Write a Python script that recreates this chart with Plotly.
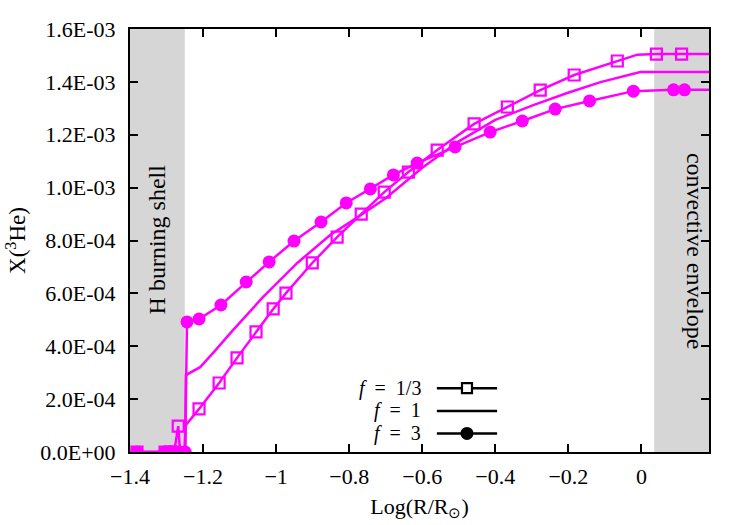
import plotly.graph_objects as go

# ---------------- data (Log R/Rsun, X(3He) in units of 1e-3) ----------------
# f = 1/3 : line and markers
f13_line_x = [-1.381, -1.304, -1.290, -1.279, -1.268, -1.263, -1.251, -1.248, -1.211, -1.156,
              -1.107, -1.055, -1.008, -0.973, -0.901, -0.833, -0.767, -0.704, -0.638, -0.559,
              -0.458, -0.367, -0.277, -0.184, -0.066, -0.011, 0.041, 0.110, 0.185]
f13_line_y = [0.0, 0.0, 0.0, 0.0, 0.098, 0.0, 0.0, 0.100, 0.163, 0.261,
              0.356, 0.454, 0.541, 0.601, 0.715, 0.813, 0.900, 0.983, 1.059, 1.142,
              1.241, 1.305, 1.369, 1.426, 1.479, 1.503, 1.505, 1.505, 1.505]
f13_mark_x = [-1.381, -1.304, -1.290, -1.279, -1.268, -1.211, -1.156, -1.107, -1.055, -1.008,
              -0.973, -0.901, -0.833, -0.767, -0.704, -0.638, -0.559, -0.458, -0.367, -0.277,
              -0.184, -0.066, 0.041, 0.110]
f13_mark_y = [0.0, 0.0, 0.0, 0.0, 0.098, 0.163, 0.261, 0.356, 0.454, 0.541,
              0.601, 0.715, 0.813, 0.900, 0.983, 1.059, 1.142, 1.241, 1.305, 1.369,
              1.426, 1.479, 1.505, 1.505]

# f = 1 : line only
f1_line_x = [-1.381, -1.300, -1.249, -1.247, -1.208, -1.173, -1.118, -1.036, -0.942, -0.852,
             -0.789, -0.700, -0.600, -0.500, -0.400, -0.296, -0.203, -0.112, -0.003, 0.185]
f1_line_y = [0.0, 0.0, 0.0, 0.291, 0.321, 0.374, 0.461, 0.586, 0.715, 0.821,
             0.877, 0.960, 1.075, 1.175, 1.256, 1.312, 1.358, 1.399, 1.437, 1.437]

# f = 3 : line and markers
f3_line_x = [-1.381, -1.304, -1.290, -1.277, -1.263, -1.249, -1.244, -1.211, -1.151, -1.082,
             -1.019, -0.951, -0.877, -0.808, -0.742, -0.679, -0.614, -0.510, -0.414, -0.326,
             -0.236, -0.142, -0.022, 0.088, 0.118, 0.185]
f3_line_y = [0.0, 0.0, 0.0, 0.0, 0.0, 0.0, 0.492, 0.503, 0.556, 0.643,
             0.719, 0.798, 0.870, 0.942, 0.995, 1.048, 1.093, 1.154, 1.210, 1.252,
             1.297, 1.328, 1.365, 1.370, 1.370, 1.370]
f3_mark_x = f3_line_x[:-1]
f3_mark_y = f3_line_y[:-1]

x_ticks = [-1.4, -1.2, -1.0, -0.8, -0.6, -0.4, -0.2, 0.0]
x_tick_text = ["\u22121.4", "\u22121.2", "\u22121", "\u22120.8", "\u22120.6", "\u22120.4", "\u22120.2", "0"]
y_ticks = [0.0, 0.2, 0.4, 0.6, 0.8, 1.0, 1.2, 1.4, 1.6]
y_tick_text = ["0.0E+00", "2.0E-04", "4.0E-04", "6.0E-04", "8.0E-04",
               "1.0E-03", "1.2E-03", "1.4E-03", "1.6E-03"]
legend_labels = ["<i>f</i>\u2002=\u20021/3", "<i>f</i>\u2002=\u20021", "<i>f</i>\u2002=\u20023"]

MAG = "#ff00ff"
FONT = "Liberation Serif"
FS = 22

fig = go.Figure()

def sc(v):
    return [a * 1e-3 for a in v]

fig.add_trace(go.Scatter(x=f13_line_x, y=sc(f13_line_y), mode="lines",
                         line=dict(color=MAG, width=2.5), showlegend=False, hoverinfo="skip"))
fig.add_trace(go.Scatter(x=f13_mark_x, y=sc(f13_mark_y), mode="markers",
                         marker=dict(symbol="square-open", size=11, color=MAG, line=dict(width=2.2, color=MAG)),
                         showlegend=False))
fig.add_trace(go.Scatter(x=f1_line_x, y=sc(f1_line_y), mode="lines",
                         line=dict(color=MAG, width=2.5), showlegend=False))
fig.add_trace(go.Scatter(x=f3_line_x, y=sc(f3_line_y), mode="lines",
                         line=dict(color=MAG, width=2.5), showlegend=False, hoverinfo="skip"))
fig.add_trace(go.Scatter(x=f3_mark_x, y=sc(f3_mark_y), mode="markers",
                         marker=dict(symbol="circle", size=13, color=MAG),
                         showlegend=False))

shapes = [
    dict(type="rect", xref="x", yref="paper", x0=-1.4, x1=-1.25, y0=0, y1=1,
         fillcolor="#d6d6d6", line=dict(width=0), layer="below"),
    dict(type="rect", xref="x", yref="paper", x0=0.035, x1=0.185, y0=0, y1=1,
         fillcolor="#d6d6d6", line=dict(width=0), layer="below"),
]

annotations = [
    dict(text="H burning shell", x=-1.325, y=(452 - 239) / 423, xref="x", yref="paper",
         showarrow=False, textangle=-90, font=dict(family=FONT, size=24, color="black")),
    dict(text="convective envelope", x=0.147, y=(452 - 251) / 423, xref="x", yref="paper",
         showarrow=False, textangle=90, font=dict(family=FONT, size=24, color="black")),
]

# legend (drawn manually: text left of sample)
rows_y = [0.151, 0.097, 0.044]
for i, lab in enumerate(legend_labels):
    annotations.append(dict(text=lab, x=0.506, y=rows_y[i], xref="paper", yref="paper",
                            xanchor="right", yanchor="middle", showarrow=False,
                            font=dict(family=FONT, size=20, color="black")))
    shapes.append(dict(type="line", xref="paper", yref="paper", x0=0.530, x1=0.634,
                       y0=rows_y[i], y1=rows_y[i], line=dict(color="black", width=2.5)))
shapes.append(dict(type="rect", xref="paper", yref="paper", xsizemode="pixel", ysizemode="pixel",
                   xanchor=0.582, yanchor=rows_y[0], x0=-5, x1=5, y0=-5, y1=5,
                   fillcolor="white", line=dict(color="black", width=2.2)))
shapes.append(dict(type="circle", xref="paper", yref="paper", xsizemode="pixel", ysizemode="pixel",
                   xanchor=0.582, yanchor=rows_y[2], x0=-6.5, x1=6.5, y0=-6.5, y1=6.5,
                   fillcolor="black", line=dict(color="black", width=0)))

fig.update_layout(
    width=750, height=525,
    margin=dict(l=130, r=41, t=29, b=73),
    paper_bgcolor="white", plot_bgcolor="white",
    font=dict(family=FONT, size=FS, color="black"),
    shapes=shapes, annotations=annotations,
    showlegend=False,
)
fig.update_xaxes(range=[-1.4, 0.185], tickvals=x_ticks, ticktext=x_tick_text,
                 ticks="inside", ticklen=8, tickwidth=1.5, tickcolor="black",
                 showline=True, linewidth=2, linecolor="black", mirror="allticks",
                 showgrid=False, zeroline=False, automargin=False, ticklabelstandoff=4,
                 title=dict(text="Log(R/R<sub>\u2299</sub>)", standoff=10, font=dict(family=FONT, size=FS)),
                 tickfont=dict(family=FONT, size=FS))
fig.update_yaxes(range=[0, 1.6e-3], tickvals=[v * 1e-3 for v in y_ticks], ticktext=y_tick_text,
                 ticks="inside", ticklen=8, tickwidth=1.5, tickcolor="black",
                 showline=True, linewidth=2, linecolor="black", mirror="allticks",
                 showgrid=False, zeroline=False, automargin=False, ticklabelstandoff=8,
                 title=dict(text="X(<sup>3</sup>He)", standoff=8, font=dict(family=FONT, size=23)),
                 tickfont=dict(family=FONT, size=FS))

fig.write_html("out.html")
